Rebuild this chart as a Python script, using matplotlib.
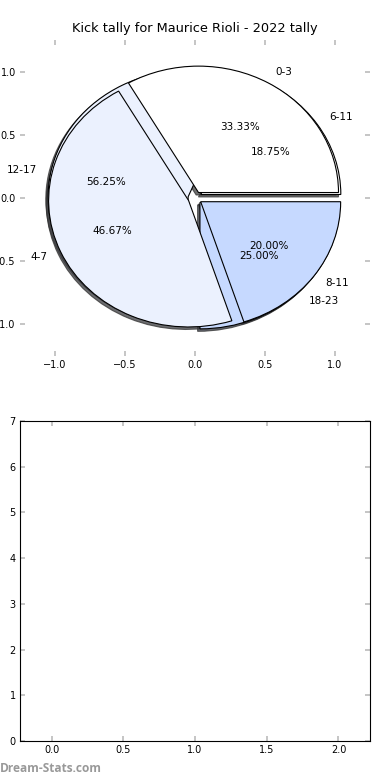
import matplotlib.pyplot as plt

# Kick tally by quarter-time bands (two overlaid pies, as in the source)
labels_a = ['0-3', '4-7', '8-11']
kicks_a = [5, 7, 3]
labels_b = ['6-11', '12-17', '18-23']
kicks_b = [3, 9, 4]
explode = [0.05, 0.05, 0.05]
colors = ['white', '#EBF1FE', '#C6D9FF']
title = 'Kick tally for Maurice Rioli - 2022 tally'

fig = plt.figure(figsize=(3.9, 7.8), dpi=100)

# Top panel: pie
ax1 = fig.add_axes([20 / 390, 1 - 356 / 780, 350 / 390, 316 / 780])
shadow = {'ox': -0.012, 'oy': -0.014, 'shade': 0.75, 'alpha': 0.75,
          'edgecolor': '#333333', 'linewidth': 0.8}
for labels, kicks in [(labels_b, kicks_b), (labels_a, kicks_a)]:
    wedges, texts, autotexts = ax1.pie(
        kicks, labels=labels, explode=explode, colors=colors,
        autopct='%1.2f%%', shadow=shadow,
        wedgeprops={'edgecolor': 'black', 'linewidth': 0.8})
    for t in texts + autotexts:
        t.set_fontsize(7.5)

ax1.set_aspect('auto')
ax1.set_frame_on(False)
ax1.set_xlim(-1.25, 1.25)
ax1.set_ylim(-1.25, 1.25)
ax1.set_xticks([-1.0, -0.5, 0.0, 0.5, 1.0])
ax1.set_yticks([-1.0, -0.5, 0.0, 0.5, 1.0])
ax1.set_title(title, fontsize=9.3, pad=6)

# Bottom panel: empty axes
ax2 = fig.add_axes([20 / 390, 1 - 741 / 780, 350 / 390, 320 / 780])
ax2.set_xlim(-0.22, 2.22)
ax2.set_ylim(0, 7)
ax2.set_xticks([0.0, 0.5, 1.0, 1.5, 2.0])
ax2.set_yticks(range(8))

for ax in (ax1, ax2):
    ax.tick_params(direction='in', length=3.5, width=1.2, color='#bbbbbb',
                   top=True, right=True, labelsize=7, pad=3)

fig.text(0.0, 8 / 780, 'Dream-Stats.com', color='#999999', fontsize=8.6,
         family='Open Sans', fontweight='bold', ha='left', va='baseline')

fig.savefig('out.png', dpi=100)
